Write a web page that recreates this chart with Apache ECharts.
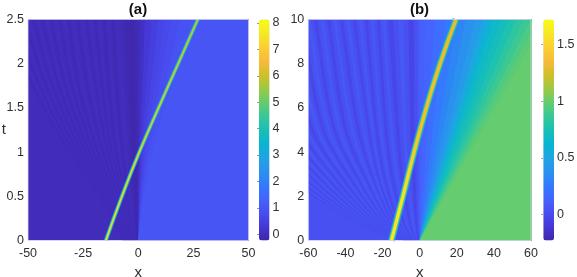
<!DOCTYPE html>
<html><head><meta charset="utf-8">
<style>html,body{margin:0;padding:0;background:#fff}#c{width:577px;height:277px}</style>
<script src="https://cdn.jsdelivr.net/npm/echarts@6/dist/echarts.min.js"></script>
</head><body><div id="c"></div>
<script>
// Colour scale of both panels
const parula = ['#3e26a8','#4537d5','#484df0','#4563fd','#327bfc','#2b91ef','#20a5e3','#08b5d0','#19bfb6','#37c897','#64cc6f','#9dc942','#d1bf27','#f8ba3d','#fccf30','#f5e924','#f9fb15'];

// Panel (a): t levels at which each curve's x is read
const tLevelsA = [0, 0.5, 1.1, 1.8, 2.5];
const baseValueA = -0.03;
const stripeDarkA = -0.1;
const stripeLightA = 0.04;
// oscillation troughs, leftmost first
const troughCurvesA = [
  [-7.5,-18,-34,-49,-60],[-7,-17,-32,-46,-56],[-6.5,-16,-30,-43,-52],[-6,-15,-28,-40,-48],
  [-5.5,-14,-26,-37,-44],[-5,-13,-24,-34,-40],[-4.5,-12,-22,-31,-36],[-4,-11,-20,-28,-32],
  [-3.5,-9.5,-17.5,-24,-28],[-3,-8,-15,-20,-24],[-2.5,-7,-13,-17,-20],[-2,-6,-11,-14,-16],
  [-1.5,-5,-8,-10.5,-12],[-1,-3,-4.5,-6,-8]
];
// contour curves on the right, and the value to the right of each
const contourCurvesA = [
  [-1,-3,-4.5,-6,-8],[-0.8,-2.2,-3.5,-4.8,-6],[-0.5,-1.5,-2.5,-3.2,-4],[-0.2,-0.6,-1,-1.6,-2],[-0.1,-0.2,-0.3,-0.4,-0.5],
  [0,0.1,0.3,0.65,1],[0,0.3,0.9,2,3],[0,0.6,1.8,3.9,6],[0,0.9,2.7,5.9,9],
  [0,1.2,3.6,7.8,12],[0,1.5,4.5,9.8,15],[0,1.9,5.7,12.4,19],[0,2.4,7.2,15.6,24]
];
const contourValuesA = [-0.08,-0.14,-0.18,-0.12,-0.02,0.1,0.3,0.48,0.62,0.72,0.82,0.92,1.0];
const ridgeXA = [-14.7,-7.4,0.5,9.2,18.1,27];
const ridgeTA = [0,0.5,1,1.5,2,2.5];

// Panel (b)
const tLevelsB = [0, 0.6, 2.7, 5.1, 10];
const baseValueB = 0.03;
const stripeDarkB = -0.02;
const stripeLightB = 0.08;
const troughCurvesB = [
  [-9,-29.5,-69,-100,-140],[-8.5,-28,-65,-95,-130],[-8,-26.5,-61,-89,-120],[-7.5,-25,-57,-83,-110],
  [-7,-23.5,-53,-77,-99],[-6.5,-22,-49,-71,-85],[-6,-20.5,-45,-65,-78],[-5.5,-19,-41,-59,-71],
  [-5,-17.5,-37,-53,-64],[-4.5,-16,-33,-47,-57],[-4,-14.5,-29,-41,-50],[-3.5,-13,-25,-34,-43],
  [-3,-11.5,-22,-28,-36],[-2.5,-10,-19,-24,-29.5],[-2,-8,-15,-19,-23],[-1.5,-5,-10,-13,-17],
  [-1,-2,-4,-5,-6]
];
const contourCurvesB = [
  [-1,-2,-4,-5,-6],[-0.6,-1.2,-2.2,-2.8,-3.2],[-0.3,-0.5,-0.8,-1,-1.2],[-0.1,-0.1,-0.1,-0.1,0],
  [0,0.18,0.8,1.5,3],[0,0.48,2.2,4.1,8],[0,0.84,3.8,7.1,14],[0,1.2,5.4,10.2,20],
  [0,1.5,6.8,12.8,25],[0,1.8,8.1,15.3,30],[0,2,9.2,17.3,34],[0,2.2,10,18.9,37],
  [0,2.4,10.8,20.4,40],[0,2.6,11.9,22.4,44],[0,2.9,13,24.5,48],[0,3.1,14,26.5,52],
  [0,3.4,15.1,28.6,56],[0,3.6,16.2,30.6,60],[0,3.8,17.3,32.6,64],[0,4.1,18.4,34.7,68]
];
const contourValuesB = [-0.03,0.03,0.09,0.12,0.14,0.19,0.25,0.32,0.38,0.44,0.52,0.6,0.67,0.72,0.77,0.83,0.88,0.93,0.97,0.99];
const ridgeXB = [-15.2,-9,-3,3.6,11,19.6];
const ridgeTB = [0,2,4,6,8,10];

// Axis ticks
const xTicksA = {min:-50,max:50,interval:25};
const yTicksA = {min:0,max:2.5,interval:0.5};
const xTicksB = {min:-60,max:60,interval:20};
const yTicksB = {min:0,max:10,interval:2};
const barRangeA = [-0.235,8.13];
const barRangeB = [-0.23,1.72];
const barTicksA = [0,1,2,3,4,5,6,7,8];
const barTicksB = [0,0.5,1,1.5];

const FONT = 'Liberation Sans';
const INK = '#303030';
const FAR_RIGHT = 200;

function makeBands(xMin, base, troughs, dark, light, curves, values){
  const bands = [{curve: troughs[0].map(()=>xMin), value: base}];
  const mid = (dark+light)/2;
  const fr = [0,0.25,0.5,0.75], vals = [dark,mid,light,mid];
  for(let k=0;k<troughs.length-1;k++){
    fr.forEach((f,j)=>bands.push({
      curve: troughs[k].map((x,i)=>x+(troughs[k+1][i]-x)*f),
      value: vals[j]
    }));
  }
  curves.forEach((c,i)=>bands.push({curve:c,value:values[i]}));
  return bands;
}

// rounds a curve's corners when it is drawn, as a line series' smooth option would
function roundedEdge(xs, ts){
  const n = xs.length, out = [];
  const slope = i => i===0 ? (xs[1]-xs[0])/(ts[1]-ts[0])
    : i===n-1 ? (xs[n-1]-xs[n-2])/(ts[n-1]-ts[n-2])
    : (xs[i+1]-xs[i-1])/(ts[i+1]-ts[i-1]);
  for(let i=0;i<n-1;i++){
    const h = ts[i+1]-ts[i];
    for(let s=0;s<8;s++){
      const u = s/8, u2=u*u, u3=u2*u;
      out.push([(2*u3-3*u2+1)*xs[i]+(u3-2*u2+u)*h*slope(i)+(3*u2-2*u3)*xs[i+1]+(u3-u2)*h*slope(i+1), ts[i]+u*h]);
    }
  }
  out.push([xs[n-1],ts[n-1]]);
  return out;
}

function fieldSeries(name, axisIdx, bands, levels){
  return {
    type:'custom', name, xAxisIndex:axisIdx, yAxisIndex:axisIdx, clip:true, silent:true,
    dimensions:['x','t','value','band'], encode:{x:0,y:1},
    data: bands.map((b,i)=>[b.curve[0],0,b.value,i]),
    renderItem(params, api){
      const b = bands[api.value(3)];
      const pts = roundedEdge(b.curve,levels).map(p=>api.coord(p));
      pts.push(api.coord([FAR_RIGHT,levels[levels.length-1]]));
      pts.push(api.coord([FAR_RIGHT,0]));
      return {type:'polygon',shape:{points:pts},style:{fill:api.visual('color')},silent:true};
    }
  };
}

function ridge(name, axisIdx, xs, ts, width, color, z){
  return {type:'line',name,xAxisIndex:axisIdx,yAxisIndex:axisIdx,symbol:'none',smooth:0.5,clip:true,silent:true,z,
    data:xs.map((x,i)=>[x,ts[i]]),lineStyle:{width,color,cap:'butt'}};
}

const centreA = new echarts.graphic.LinearGradient(0,0,0,1,[{offset:0,color:'#b9c62f'},{offset:0.5,color:'#d6d22c'},{offset:1,color:'#ece726'}]);
const centreB = new echarts.graphic.LinearGradient(0,0,0,1,[{offset:0,color:'#e9b92f'},{offset:0.5,color:'#f2c22c'},{offset:0.8,color:'#f5e326'},{offset:1,color:'#f5e924'}]);

const bandsA = makeBands(-50,baseValueA,troughCurvesA,stripeDarkA,stripeLightA,contourCurvesA,contourValuesA);
const bandsB = makeBands(-60,baseValueB,troughCurvesB,stripeDarkB,stripeLightB,contourCurvesB,contourValuesB);

const label = {fontFamily:FONT,fontSize:12.5,color:INK};
const edge = 'rgba(215,215,240,0.8)';
function mainX(t,gi,name){return {type:'value',gridIndex:gi,...t,name,nameLocation:'middle',nameGap:23,
  nameTextStyle:{fontFamily:FONT,fontSize:15,color:INK},
  axisLine:{show:false,onZero:false},axisTick:{show:false},splitLine:{show:false},
  axisLabel:{...label,margin:7,showMinLabel:true,showMaxLabel:true}};}
function mainY(t,gi,name){return {type:'value',gridIndex:gi,...t,name,nameLocation:'middle',nameGap:22,nameRotate:0,nameMoveOverlap:false,
  nameTextStyle:{fontFamily:FONT,fontSize:15,color:INK,padding:[0,0,16,0]},
  axisLine:{show:false,onZero:false},axisTick:{show:false},splitLine:{show:false},
  axisLabel:{...label,margin:4,showMinLabel:true,showMaxLabel:true}};}
function barX(gi){return {type:'value',gridIndex:gi,min:0,max:1,show:false};}
function barY(gi,range,ticks){return {type:'value',gridIndex:gi,min:range[0],max:range[1],position:'right',
  axisLine:{show:false},splitLine:{show:false},
  axisTick:{show:true,inside:true,length:2,customValues:ticks,lineStyle:{color:'#555',width:0.6}},
  axisLabel:{...label,margin:3,customValues:ticks}};}
function frame(left,width){return {type:'rect',z:20,silent:true,shape:{x:left,y:19.5,width,height:221},style:{fill:'none',stroke:edge,lineWidth:1}};}

const chart = echarts.init(document.getElementById('c'),null,{renderer:'canvas'});
chart.setOption({
  animation:false,backgroundColor:'#fff',
  title:[
    {text:'(a)',left:138,top:2.5,padding:0,textAlign:'center',textStyle:{fontFamily:FONT,fontSize:15,fontWeight:'bold',color:'#111'}},
    {text:'(b)',left:419.5,top:2.5,padding:0,textAlign:'center',textStyle:{fontFamily:FONT,fontSize:15,fontWeight:'bold',color:'#111'}}
  ],
  grid:[
    {left:28,top:19.5,width:220.5,height:221,outerBoundsMode:'none'},
    {left:308.3,top:19.5,width:222.7,height:221,outerBoundsMode:'none'},
    {left:259,top:19.5,width:10.5,height:221,outerBoundsMode:'none'},
    {left:543.3,top:19.5,width:10.7,height:221,outerBoundsMode:'none'}
  ],
  graphic:[frame(28,220.5),frame(308.3,222.7)],
  xAxis:[mainX(xTicksA,0,'x'),mainX(xTicksB,1,'x'),barX(2),barX(3)],
  yAxis:[mainY(yTicksA,0,'t'),mainY(yTicksB,1,''),barY(2,barRangeA,barTicksA),barY(3,barRangeB,barTicksB)],
  visualMap:[
    {type:'continuous',seriesIndex:0,dimension:2,min:barRangeA[0],max:barRangeA[1],show:true,calculable:false,
     left:259,top:19.5,itemWidth:10.5,itemHeight:221,padding:0,text:null,showLabel:false,inRange:{color:parula},z:1},
    {type:'continuous',seriesIndex:1,dimension:2,min:barRangeB[0],max:barRangeB[1],show:true,calculable:false,
     left:543.3,top:19.5,itemWidth:10.7,itemHeight:221,padding:0,text:null,showLabel:false,inRange:{color:parula},z:1}
  ],
  series:[
    fieldSeries('a',0,bandsA,tLevelsA),
    fieldSeries('b',1,bandsB,tLevelsB),
    ridge('a1',0,ridgeXA,ridgeTA,4,'#2b91ef',3),
    ridge('a2',0,ridgeXA,ridgeTA,3,'#19bfb6',4),
    ridge('a3',0,ridgeXA,ridgeTA,2.2,'#64cc6f',5),
    ridge('a4',0,ridgeXA,ridgeTA,1.4,centreA,6),
    ridge('b1',1,ridgeXB,ridgeTB,7,'#2b91ef',3),
    ridge('b2',1,ridgeXB,ridgeTB,5.6,'#19bfb6',4),
    ridge('b3',1,ridgeXB,ridgeTB,4.4,'#64cc6f',5),
    ridge('b4',1,ridgeXB,ridgeTB,3.2,centreB,6)
  ]
});
</script></body></html>
